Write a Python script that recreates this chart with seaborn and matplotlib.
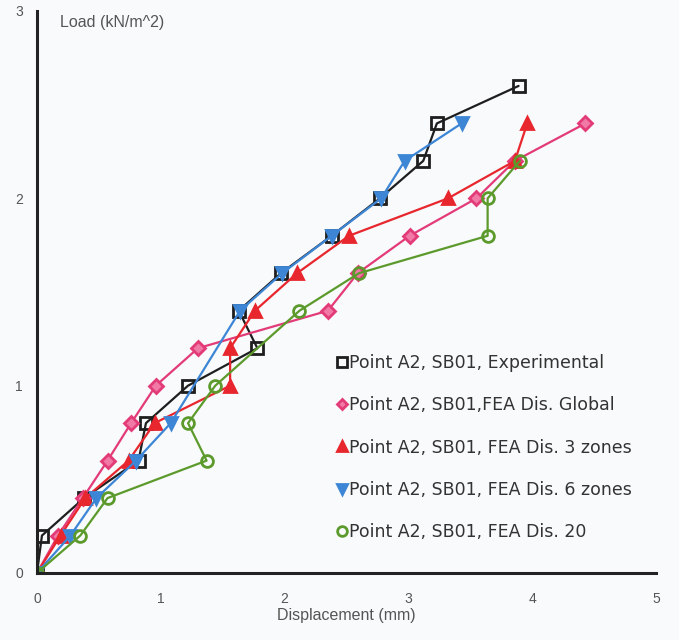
import matplotlib
matplotlib.use("Agg")
import matplotlib.pyplot as plt
from matplotlib.lines import Line2D
import seaborn as sns
import pandas as pd

# ---- data ----
exp_x = [0.0, 0.04, 0.38, 0.82, 0.88, 1.22, 1.78, 1.63, 1.97, 2.38, 2.77, 3.12, 3.23, 3.89]
exp_y = [0.0, 0.2, 0.4, 0.6, 0.8, 1.0, 1.2, 1.4, 1.6, 1.8, 2.0, 2.2, 2.4, 2.6]

glob_x = [0.0, 0.17, 0.37, 0.57, 0.76, 0.96, 1.3, 2.35, 2.59, 3.01, 3.55, 3.86, 4.43]
glob_y = [0.0, 0.2, 0.4, 0.6, 0.8, 1.0, 1.2, 1.4, 1.6, 1.8, 2.0, 2.2, 2.4]

z3_x = [0.0, 0.19, 0.39, 0.74, 0.95, 1.56, 1.56, 1.76, 2.1, 2.52, 3.32, 3.86, 3.96]
z3_y = [0.0, 0.2, 0.4, 0.6, 0.8, 1.0, 1.2, 1.4, 1.6, 1.8, 2.0, 2.2, 2.4]

z6_x = [0.0, 0.27, 0.48, 0.8, 1.08, 1.64, 1.98, 2.38, 2.78, 2.97, 3.43]
z6_y = [0.0, 0.2, 0.4, 0.6, 0.8, 1.4, 1.6, 1.8, 2.0, 2.2, 2.4]

z20_x = [0.0, 0.35, 0.57, 1.37, 1.22, 1.44, 2.12, 2.6, 3.64, 3.64, 3.9]
z20_y = [0.0, 0.2, 0.4, 0.6, 0.8, 1.0, 1.4, 1.6, 1.8, 2.0, 2.2]

labels = [
    "Point A2, SB01, Experimental",
    "Point A2, SB01,FEA Dis. Global",
    "Point A2, SB01, FEA Dis. 3 zones",
    "Point A2, SB01, FEA Dis. 6 zones",
    "Point A2, SB01, FEA Dis. 20",
]
x_ticks = [0, 1, 2, 3, 4, 5]
y_ticks = [0, 1, 2, 3]

series = [
    (exp_x, exp_y, "#1e1e1e", "s", "none", 8.5),
    (glob_x, glob_y, "#e33b78", "D", "#f07aa5", 7),
    (z3_x, z3_y, "#e8262e", "^", "#e8262e", 8.5),
    (z6_x, z6_y, "#3d86d6", "v", "#3d86d6", 8.5),
    (z20_x, z20_y, "#5c9a2c", "o", "none", 8.5),
]

sns.set_style("white")
plt.rcParams["font.family"] = ["Liberation Sans", "DejaVu Sans"]

fig = plt.figure(figsize=(6.79, 6.40), dpi=100)
fig.patch.set_facecolor("#f8fafb")
ax = fig.add_axes([37 / 679, 1 - 573 / 640, (656 - 37) / 679, (573 - 11) / 640])
ax.set_facecolor("#f8fafb")

handles = []
for (xs, ys, col, mk, mfc, ms), lab in zip(series, labels):
    df = pd.DataFrame({"x": xs, "y": ys})
    sns.lineplot(data=df, x="x", y="y", sort=False, estimator=None, ax=ax,
                 color=col, lw=1.6, marker=mk, markersize=ms,
                 markerfacecolor=mfc, markeredgecolor=col, markeredgewidth=2.0)
    handles.append(Line2D([], [], ls="none", marker=mk, markersize=ms - 1.5,
                          markerfacecolor=mfc, markeredgecolor=col,
                          markeredgewidth=2.0, label=lab))

ax.set_xlim(0, 5)
ax.set_ylim(0, 3)
ax.set_xticks(x_ticks)
ax.set_yticks(y_ticks)
ax.tick_params(direction="in", length=6, width=1.5, colors="#222222",
               labelcolor="#555555", labelsize=10)
ax.tick_params(axis="x", pad=14)
ax.tick_params(axis="y", pad=10)
for s in ["top", "right"]:
    ax.spines[s].set_visible(False)
for s in ["left", "bottom"]:
    ax.spines[s].set_linewidth(2.2)
    ax.spines[s].set_color("#222222")

ax.set_xlabel("Displacement (mm)", fontsize=11.5, color="#555555", labelpad=1)
ax.set_ylabel("Load (kN/m^2)", fontsize=11.5, color="#555555", rotation=0,
              ha="left", va="center")
ax.yaxis.set_label_coords(23 / 619, (573 - 22) / 562)

leg = ax.legend(handles=handles, loc="upper left",
                bbox_to_anchor=((330 - 37) / 619, (573 - 347) / 562),
                frameon=False, labelspacing=1.4,
                handlelength=0.6, handletextpad=0.1, borderaxespad=0,
                prop={"family": "DejaVu Sans", "size": 12.5})
for t in leg.get_texts():
    t.set_color("#333333")

fig.savefig("out.png", dpi=100, facecolor=fig.get_facecolor())
